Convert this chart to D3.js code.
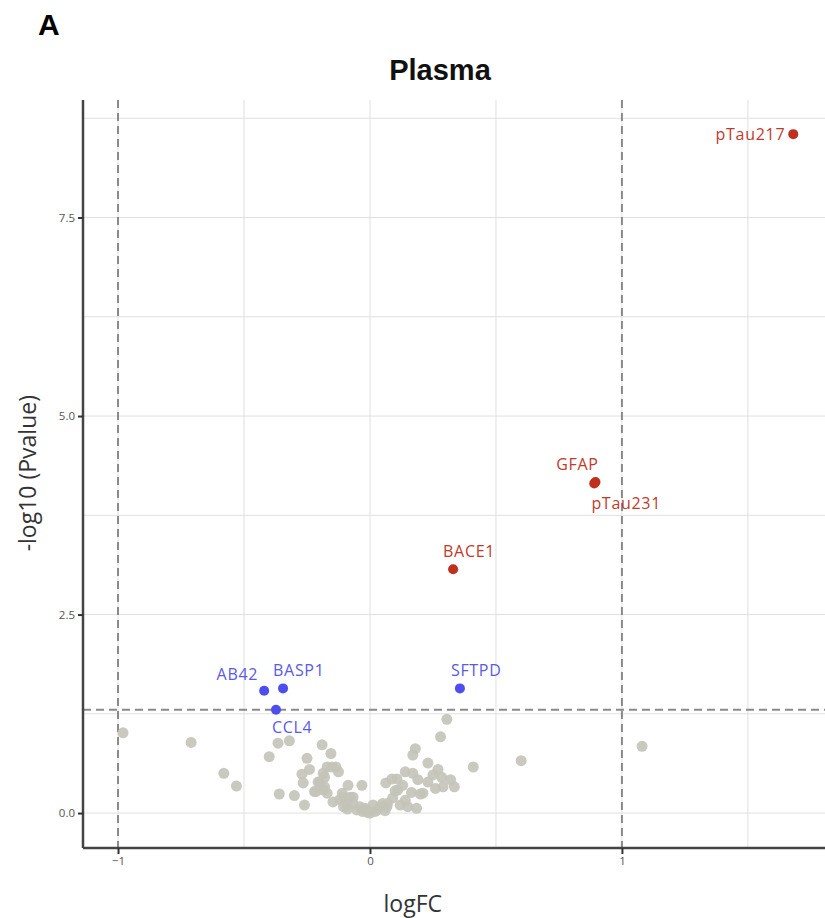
<!DOCTYPE html>
<html>
<head>
<meta charset="utf-8">
<script src="https://cdn.jsdelivr.net/npm/d3@7"></script>
<style>
  body { margin: 0; background: #fff; }
  svg { display: block; }
</style>
</head>
<body>
<div id="chart"></div>
<script>
// labelled (significant) proteins
var hitNames = ["pTau217", "GFAP", "pTau231", "BACE1", "AB42", "BASP1", "CCL4", "SFTPD"];
var hitFC    = [1.68, 0.895, 0.89, 0.33, -0.42, -0.345, -0.373, 0.357];
var hitP     = [8.55, 4.17, 4.15, 3.07, 1.54, 1.57, 1.30, 1.57];
var hitGroup = ["up", "up", "up", "up", "down", "down", "down", "down"];

// non-significant proteins
var nsFC = [-0.98, -0.71, -0.58, -0.53,
  -0.40, -0.365, -0.32, -0.36, -0.30, -0.26, -0.19, -0.155, -0.25, -0.24, -0.27, -0.265,
  -0.22, -0.20, -0.17, -0.135, -0.125, -0.18, -0.185, -0.087, -0.032, -0.147, -0.107, -0.067,
  -0.11, -0.08, -0.067, -0.052, -0.02, 0.0, -0.04, -0.09, -0.12, -0.17, -0.186, -0.15,
  -0.206, -0.18, -0.215, -0.105, -0.09, -0.03, -0.01,
  0.305, 0.28, 0.18, 0.17, 0.23, 0.27, 0.41, 0.60, 1.08,
  0.14, 0.17, 0.19, 0.23, 0.285, 0.32, 0.335, 0.26,
  0.063, 0.087, 0.107, 0.10, 0.165, 0.20, 0.09, 0.14, 0.15, 0.185,
  0.012, 0.04, -0.012, 0.067, 0.03, 0.05, 0.07, 0.11, 0.12, 0.02, 0.06, 0.25, 0.29, 0.21, 0.13];
var nsP = [1.01, 0.89, 0.50, 0.34,
  0.71, 0.88, 0.91, 0.24, 0.22, 0.10, 0.86, 0.75, 0.69, 0.55, 0.49, 0.38,
  0.27, 0.39, 0.58, 0.58, 0.52, 0.45, 0.29, 0.35, 0.35, 0.14, 0.20, 0.20,
  0.25, 0.20, 0.12, 0.04, 0.06, 0.0, 0.08, 0.10, 0.17, 0.25, 0.50, 0.58,
  0.39, 0.33, 0.27, 0.08, 0.05, 0.02, 0.01,
  1.18, 0.96, 0.81, 0.73, 0.63, 0.55, 0.58, 0.66, 0.84,
  0.52, 0.50, 0.42, 0.39, 0.45, 0.42, 0.33, 0.31,
  0.38, 0.43, 0.43, 0.28, 0.26, 0.24, 0.19, 0.16, 0.08, 0.06,
  0.10, 0.08, 0.04, 0.08, 0.04, 0.12, 0.12, 0.29, 0.10, 0.02, 0.03, 0.48, 0.33, 0.25, 0.35];

var xTicks = [-1, 0, 1];
var yTicks = [0, 2.5, 5, 7.5];
var xGrid = [-1, -0.5, 0, 0.5, 1, 1.5];
var yGrid = [0, 1.25, 2.5, 3.75, 5, 6.25, 7.5, 8.75];
var fcCut = [-1, 1];
var pCut = 1.3;

// label placement (px offset from point, text-anchor)
var labelPos = {
  pTau217: [-8, 6, "end"],
  GFAP: [-18, -12, "middle"],
  pTau231: [32, 25, "middle"],
  BACE1: [16, -12, "middle"],
  AB42: [-6, -11, "end"],
  BASP1: [-10, -12, "start"],
  CCL4: [-4, 23, "start"],
  SFTPD: [-9, -12, "start"]
};

var svgWidth = 825;
var svgHeight = 918;
var margin = { top: 100, right: 0, bottom: 70, left: 83 };
var width = svgWidth - margin.left - margin.right;
var height = svgHeight - margin.top - margin.bottom;

var svg = d3.select("#chart")
  .append("svg")
  .attr("width", svgWidth)
  .attr("height", svgHeight);

var font = "'Open Sans', 'Liberation Sans', sans-serif";

svg.append("text")
  .attr("x", 38).attr("y", 35)
  .attr("font-family", "'Liberation Sans', Arial, sans-serif")
  .attr("font-weight", "bold")
  .attr("font-size", 30)
  .attr("fill", "#000")
  .text("A");

svg.append("text")
  .attr("x", 440).attr("y", 80)
  .attr("text-anchor", "middle")
  .attr("font-family", "'Liberation Sans', Arial, sans-serif")
  .attr("font-weight", "bold")
  .attr("font-size", 29)
  .attr("fill", "#111")
  .text("Plasma");

var chartGroup = svg.append("g")
  .attr("transform", `translate(${margin.left}, ${margin.top})`);

var x = d3.scaleLinear().domain([-1.139, 1.806]).range([0, width]);
var y = d3.scaleLinear().domain([-0.44, 8.98]).range([height, 0]);

// grid
chartGroup.selectAll(".gx").data(xGrid).enter().append("line")
  .attr("x1", d => x(d)).attr("x2", d => x(d))
  .attr("y1", 0).attr("y2", height)
  .attr("stroke", "#e0e0e0").attr("stroke-width", 1);
chartGroup.selectAll(".gy").data(yGrid).enter().append("line")
  .attr("x1", 0).attr("x2", width)
  .attr("y1", d => y(d)).attr("y2", d => y(d))
  .attr("stroke", "#e0e0e0").attr("stroke-width", 1);

// threshold lines
chartGroup.selectAll(".vcut").data(fcCut).enter().append("line")
  .attr("x1", d => x(d)).attr("x2", d => x(d))
  .attr("y1", 0).attr("y2", height)
  .attr("stroke", "#8a8a8a").attr("stroke-width", 2)
  .attr("stroke-dasharray", "8,5");
chartGroup.append("line")
  .attr("x1", 0).attr("x2", width)
  .attr("y1", y(pCut)).attr("y2", y(pCut))
  .attr("stroke", "#8a8a8a").attr("stroke-width", 2)
  .attr("stroke-dasharray", "8,5");

// non-significant points
var nsData = nsFC.map((d, i) => ({ fc: d, p: nsP[i] }));
chartGroup.selectAll(".ns").data(nsData).enter().append("circle")
  .attr("cx", d => x(d.fc))
  .attr("cy", d => y(d.p))
  .attr("r", 5.5)
  .attr("fill", "#c3c3b8")
  .attr("opacity", 0.9);

// significant points
var hits = hitNames.map((d, i) => ({ name: d, fc: hitFC[i], p: hitP[i], group: hitGroup[i] }));
var dotColor = { up: "#c0301f", down: "#4d4df0" };
var textColor = { up: "#bf3a2c", down: "#5a5ae6" };

chartGroup.selectAll(".hit").data(hits).enter().append("circle")
  .attr("cx", d => x(d.fc))
  .attr("cy", d => y(d.p))
  .attr("r", 5)
  .attr("fill", d => dotColor[d.group]);

chartGroup.selectAll(".hitlabel").data(hits).enter().append("text")
  .attr("x", d => x(d.fc) + labelPos[d.name][0])
  .attr("y", d => y(d.p) + labelPos[d.name][1])
  .attr("text-anchor", d => labelPos[d.name][2])
  .attr("font-family", font)
  .attr("font-size", 16)
  .attr("letter-spacing", 0.7)
  .attr("fill", d => textColor[d.group])
  .text(d => d.name);

// axes
var bottomAxis = d3.axisBottom(x).tickValues(xTicks).tickSize(6).tickFormat(d3.format("d"));
var leftAxis = d3.axisLeft(y).tickValues(yTicks).tickSize(5).tickFormat(d3.format(".1f"));

var xg = chartGroup.append("g")
  .attr("transform", `translate(0, ${height})`)
  .call(bottomAxis);
var yg = chartGroup.append("g")
  .call(leftAxis);

[xg, yg].forEach(function(g) {
  g.select(".domain").attr("stroke", "#444").attr("stroke-width", 2.5);
  g.selectAll(".tick line").attr("stroke", "#333").attr("stroke-width", 2);
  g.selectAll(".tick text")
    .attr("font-family", font)
    .attr("font-size", 11.5)
    .attr("fill", "#555");
});
xg.select(".domain").attr("d", `M0,0H${width}`);
yg.select(".domain").attr("d", `M0,0V${height}`);

// axis labels
chartGroup.append("text")
  .attr("transform", `translate(${-margin.left + 36}, ${y(4.28)}) rotate(-90)`)
  .attr("text-anchor", "middle")
  .attr("font-family", font)
  .attr("font-size", 23)
  .attr("fill", "#333")
  .text("-log10 (Pvalue)");

chartGroup.append("text")
  .attr("transform", `translate(${x(0.17)}, ${height + 64})`)
  .attr("text-anchor", "middle")
  .attr("font-family", font)
  .attr("font-size", 23)
  .attr("fill", "#333")
  .text("logFC");
</script>
</body>
</html>
